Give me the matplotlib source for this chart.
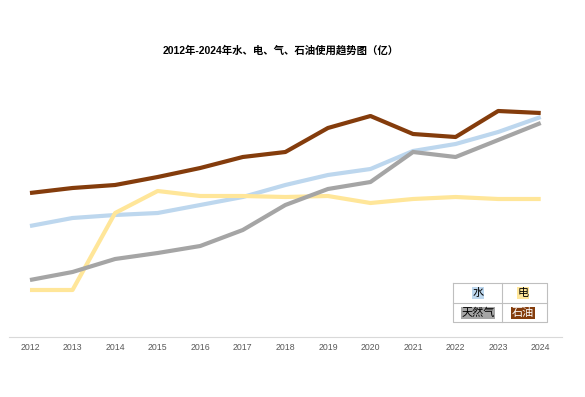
import matplotlib
matplotlib.use("Agg")
import matplotlib.pyplot as plt
from matplotlib.lines import Line2D

plt.rcParams['font.family'] = ['Noto Sans CJK SC', 'DejaVu Sans']

years = ['2012', '2013', '2014', '2015', '2016', '2017', '2018',
         '2019', '2020', '2021', '2022', '2023', '2024']
water = [11.1, 11.9, 12.2, 12.4, 13.2, 14.0, 15.2, 16.2, 16.8, 18.6, 19.3, 20.5, 22.0]
power = [4.7, 4.7, 12.4, 14.6, 14.1, 14.1, 14.0, 14.1, 13.4, 13.8, 14.0, 13.8, 13.8]
gas = [5.7, 6.5, 7.8, 8.4, 9.1, 10.7, 13.2, 14.8, 15.5, 18.5, 18.0, 19.7, 21.4]
oil = [14.4, 14.9, 15.2, 16.0, 16.9, 18.0, 18.5, 20.9, 22.1, 20.3, 20.0, 22.6, 22.4]

title = '2012年-2024年水、电、气、石油使用趋势图（亿）'
names = ['水', '电', '天然气', '石油']
colors = ['#BDD7EE', '#FFE699', '#A5A5A5', '#843C0C']

W, H = 585, 397
fig = plt.figure(figsize=(W / 100, H / 100), dpi=100)
ax = fig.add_axes([8.7 / W, 60 / H, 553.3 / W, 267 / H])

x = list(range(len(years)))
for vals, c in zip([water, power, gas, oil], colors):
    ax.plot(x, vals, color=c, lw=3.0, solid_capstyle='butt', solid_joinstyle='round')

ax.set_xlim(-0.5, len(years) - 0.5)
ax.set_ylim(0, 26.7)
ax.set_xticks(x)
ax.set_xticklabels(years, fontsize=6.3, color='#595959', family=['Liberation Sans'])
ax.tick_params(axis='x', length=0, pad=4)
ax.set_yticks([])
for s in ['left', 'right', 'top']:
    ax.spines[s].set_visible(False)
ax.spines['bottom'].set_color('#D9D9D9')
ax.spines['bottom'].set_linewidth(0.8)

fig.text(281 / W, 1 - 50 / H, title, ha='center', va='center', fontsize=7.5, color='#000000',
         family=['Liberation Sans', 'Noto Sans CJK SC'], weight='bold')

# legend drawn as a small table
x0, x1, xm = 453, 547, 502
y0, y1, ym = 283, 322, 303
gc = '#BFBFBF'
def fl(xs, ys):
    fig.add_artist(Line2D([v / W for v in xs], [1 - v / H for v in ys], color=gc, lw=0.8))
fl([x0, x1, x1, x0, x0], [y0, y0, y1, y1, y0])
fl([xm, xm], [y0, y1])
fl([x0, x1], [ym, ym])
cells = [(478, 293), (523, 293), (478, 313), (523, 313)]
tcols = ['#000000', '#000000', '#000000', '#FFFFFF']
for (cx, cy), n, c, tc in zip(cells, names, colors, tcols):
    fig.text(cx / W, 1 - cy / H, n, ha='center', va='center', fontsize=8, color=tc,
             bbox=dict(boxstyle='square,pad=0.05', fc=c, ec='none'))

fig.savefig('out.png', dpi=100)
